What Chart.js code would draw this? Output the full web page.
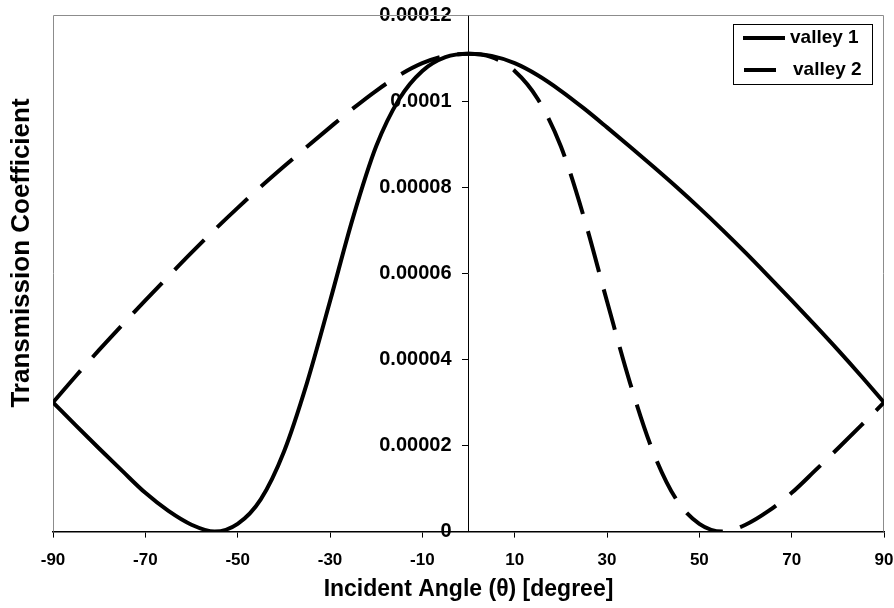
<!DOCTYPE html>
<html>
<head>
<meta charset="utf-8">
<script src="https://cdn.jsdelivr.net/npm/chart.js@4.4.1/dist/chart.umd.min.js"></script>
<style>
  html, body { margin: 0; padding: 0; background: #fff; }
  canvas { display: block; }
</style>
</head>
<body>
<canvas id="chart" width="894" height="608"></canvas>
<script>
// Incident angle in degrees, one point every 5 degrees.
const angles = [-90, -85, -80, -75, -70, -65, -60, -55, -50, -45, -40, -35, -30, -25, -20, -15, -10, -5,
  0, 5, 10, 15, 20, 25, 30, 35, 40, 45, 50, 55, 60, 65, 70, 75, 80, 85, 90];

// Transmission coefficient.
const valley1 = [3.0e-5, 2.46e-5, 1.93e-5, 1.41e-5, 9.0e-6, 4.8e-6, 1.6e-6, 0, 1.8e-6, 7.5e-6, 1.85e-5, 3.45e-5,
  5.35e-5, 7.3e-5, 8.95e-5, 1.005e-4, 1.07e-4, 1.102e-4,
  1.11e-4, 1.105e-4, 1.088e-4, 1.06e-4, 1.024e-4, 9.83e-5, 9.39e-5, 8.94e-5, 8.48e-5, 8.01e-5, 7.52e-5, 7.01e-5,
  6.48e-5, 5.93e-5, 5.37e-5, 4.8e-5, 4.22e-5, 3.62e-5, 3.0e-5];

const valley2 = [3.0e-5, 3.62e-5, 4.22e-5, 4.8e-5, 5.37e-5, 5.93e-5, 6.48e-5, 7.01e-5, 7.52e-5, 8.01e-5, 8.48e-5, 8.94e-5,
  9.39e-5, 9.83e-5, 1.024e-4, 1.06e-4, 1.088e-4, 1.105e-4,
  1.11e-4, 1.102e-4, 1.07e-4, 1.005e-4, 8.95e-5, 7.3e-5, 5.35e-5, 3.45e-5, 1.85e-5, 7.5e-6, 1.8e-6, 0,
  1.6e-6, 4.8e-6, 9.0e-6, 1.41e-5, 1.93e-5, 2.46e-5, 3.0e-5];

const seriesNames = ['valley 1', 'valley 2'];
const xTitle = 'Incident Angle (\u03b8) [degree]';
const yTitle = 'Transmission Coefficient';

const FONT = '"Liberation Sans", Arial, sans-serif';
Chart.defaults.font.family = FONT;
Chart.defaults.font.weight = 'bold';
Chart.defaults.color = '#000';

const toPoints = (ys) => angles.map((a, i) => ({ x: a, y: ys[i] }));

// Gray frame round the plot, the two titles and a boxed legend.
const furniture = {
  id: 'furniture',
  beforeDatasetsDraw(chart) {
    const { ctx, chartArea: a } = chart;
    ctx.save();
    ctx.strokeStyle = '#8c8c8c';
    ctx.lineWidth = 1;
    ctx.beginPath();
    ctx.moveTo(a.left + 0.5, a.bottom);
    ctx.lineTo(a.left + 0.5, a.top + 0.5);
    ctx.lineTo(a.right - 0.5, a.top + 0.5);
    ctx.lineTo(a.right - 0.5, a.bottom);
    ctx.stroke();
    ctx.restore();
  },
  afterDraw(chart) {
    const { ctx, chartArea: a } = chart;
    ctx.save();
    ctx.fillStyle = '#000';
    ctx.textAlign = 'center';
    ctx.textBaseline = 'middle';
    ctx.font = 'bold 23px ' + FONT;
    ctx.fillText(xTitle, (a.left + a.right) / 2, 590);
    ctx.translate(22, 253);
    ctx.rotate(-Math.PI / 2);
    ctx.font = 'bold 26px ' + FONT;
    ctx.fillText(yTitle, 0, 0);
    ctx.restore();

    // legend
    const bx = a.right - 151, by = a.top + 9, bw = 139, bh = 60;
    ctx.save();
    ctx.fillStyle = '#fff';
    ctx.fillRect(bx, by, bw, bh);
    ctx.strokeStyle = '#000';
    ctx.lineWidth = 1;
    ctx.strokeRect(bx + 0.5, by + 0.5, bw, bh);
    ctx.font = 'bold 19px ' + FONT;
    ctx.textBaseline = 'middle';
    ctx.textAlign = 'left';
    chart.data.datasets.forEach((ds, i) => {
      const y = by + 14 + i * 32;
      ctx.strokeStyle = ds.borderColor;
      ctx.lineWidth = ds.borderWidth;
      ctx.setLineDash(ds.borderDash || []);
      ctx.beginPath();
      ctx.moveTo(bx + 10 + i, y);
      ctx.lineTo(bx + (i ? 43 : 52), y);
      ctx.stroke();
      ctx.setLineDash([]);
      ctx.fillStyle = '#000';
      ctx.fillText(ds.label, bx + 57 + i * 3, y);
    });
    ctx.restore();
  }
};

new Chart(document.getElementById('chart'), {
  type: 'line',
  data: {
    datasets: [
      {
        label: seriesNames[0],
        data: toPoints(valley1),
        borderColor: '#000',
        borderWidth: 4,
        pointRadius: 0,
        cubicInterpolationMode: 'monotone'
      },
      {
        label: seriesNames[1],
        data: toPoints(valley2),
        borderColor: '#000',
        borderWidth: 4,
        borderDash: [42, 18],
        pointRadius: 0,
        cubicInterpolationMode: 'monotone'
      }
    ]
  },
  options: {
    responsive: false,
    animation: false,
    devicePixelRatio: 1,
    layout: { padding: { left: 53, right: 10, top: 15, bottom: 24 } },
    plugins: { legend: { display: false }, tooltip: { enabled: false } },
    scales: {
      x: {
        type: 'linear',
        position: 'bottom',
        min: -90,
        max: 90,
        grid: { drawOnChartArea: false, drawTicks: true, tickLength: 6, color: '#000' },
        border: { color: '#000', width: 1.5 },
        ticks: { stepSize: 20, autoSkip: false, maxRotation: 0, padding: 13, font: { size: 17, weight: 'bold' } },
        // the layout padding already leaves room for the end labels
        afterFit: (s) => { s.paddingLeft = 0; s.paddingRight = 0; }
      },
      y: {
        type: 'linear',
        position: 'center',
        min: 0,
        max: 0.00012,
        grid: { drawOnChartArea: false, drawTicks: true, tickLength: 6, color: '#000' },
        border: { color: '#000', width: 1 },
        ticks: {
          stepSize: 0.00002,
          padding: 11,
          font: { size: 20, weight: 'bold' },
          callback: (v) => String(Number(v.toFixed(5)))
        },
        afterFit: (s) => { s.paddingTop = 0; s.paddingBottom = 0; }
      }
    }
  },
  plugins: [furniture]
});
</script>
</body>
</html>
